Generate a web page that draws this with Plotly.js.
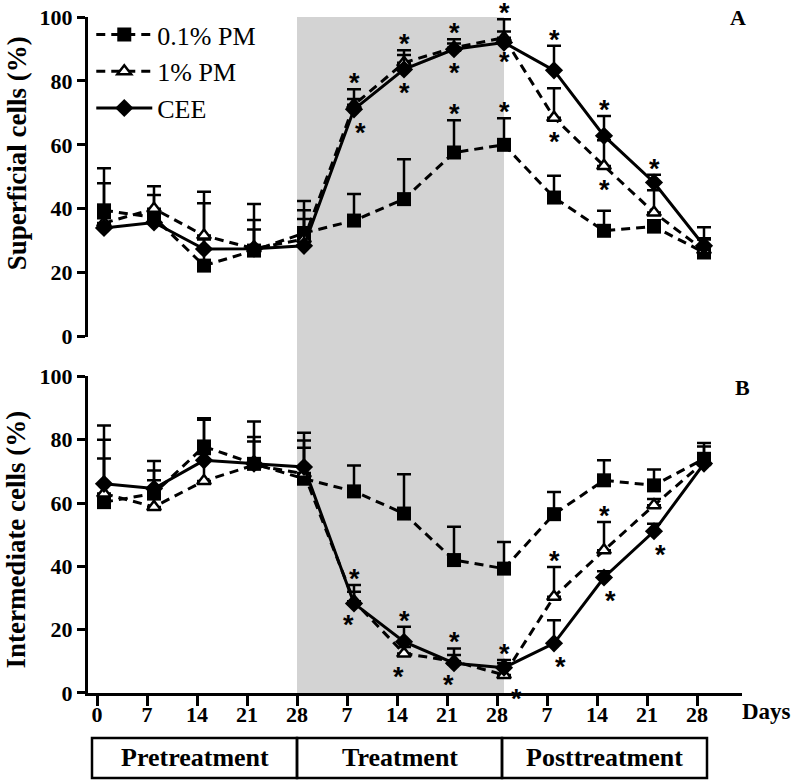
<!DOCTYPE html>
<html>
<head>
<meta charset="utf-8">
<script src="https://cdn.plot.ly/plotly-3.0.1.min.js"></script>
<style>
  body { margin: 0; background: white; }
  #chart { width: 793px; height: 783px; }
</style>
</head>
<body>
<div id="chart"></div>
<script>
// x positions: sampling index (weekly), with day labels per phase
const xIdx = [0, 1, 2, 3, 4, 5, 6, 7, 8, 9, 10, 11, 12];
const xShift = 0.14; // points sit just right of the ticks
const dayLabels = ['0', '7', '14', '21', '28', '7', '14', '21', '28', '7', '14', '21', '28'];
const phaseLabels = ['Pretreatment', 'Treatment', 'Posttreatment'];
const seriesNames = ['0.1% PM', '1% PM', 'CEE'];

// A - superficial cells (%), mean and upper SEM
const supPM01 = [39.5, 37.3, 22.2, 26.9, 32.4, 36.3, 43.0, 57.6, 60.0, 43.5, 33.1, 34.4, 26.3];
const supPM01Err = [13.2, 7.0, 19.5, 14.6, 10.0, 8.3, 12.5, 10.1, 8.3, 6.8, 6.3, 2.0, 7.9];
const supPM1 = [35.5, 40.0, 31.6, 27.5, 30.5, 72.5, 85.7, 90.4, 93.5, 68.5, 53.4, 38.8, 27.0];
const supPM1Err = [12.5, 7.0, 13.7, 9.0, 9.0, 4.9, 3.9, 2.6, 2.0, 9.2, 8.0, 7.0, 3.8];
const supCEE = [34.0, 35.7, 27.4, 27.5, 28.4, 71.1, 83.6, 89.9, 92.0, 83.3, 62.8, 48.2, 28.4];
const supCEEErr = [3.0, 3.0, 3.0, 6.0, 8.4, 3.2, 4.5, 1.8, 7.3, 7.7, 6.2, 2.4, 2.0];

// B - intermediate cells (%)
const intPM01 = [60.3, 63.0, 77.9, 72.4, 67.7, 63.7, 56.7, 42.0, 39.3, 56.5, 67.2, 65.6, 74.0];
const intPM01Err = [19.7, 7.3, 8.9, 13.4, 9.8, 8.2, 12.4, 10.5, 8.4, 7.0, 6.3, 5.0, 5.0];
const intPM1 = [63.0, 58.8, 67.0, 72.0, 69.3, 29.0, 12.5, 10.0, 5.7, 30.4, 45.1, 59.3, 73.0];
const intPM1Err = [21.5, 14.5, 19.3, 8.9, 10.5, 3.0, 2.0, 2.0, 3.7, 9.4, 8.9, 2.0, 4.9];
const intCEE = [66.1, 64.6, 73.5, 72.5, 71.4, 28.3, 16.2, 9.4, 8.0, 15.7, 36.5, 51.1, 72.5];
const intCEEErr = [8.0, 2.6, 2.0, 7.0, 10.8, 5.8, 4.7, 4.7, 2.4, 7.3, 2.0, 2.4, 2.0];

// significance stars: [index, series (0,1,2), 'up' above error cap | 'down' below point, side nudge]
const supStars = [
  [5, 1, 'up', 0], [5, 2, 'down', 1], [6, 1, 'up', 0], [6, 2, 'down', 0],
  [7, 0, 'up', 0], [7, 1, 'up', 0], [7, 2, 'down', 0], [8, 0, 'up', 0], [8, 2, 'up', 0], [8, 1, 'down', 0],
  [9, 2, 'up', 0], [9, 1, 'down', 0], [10, 2, 'up', 0], [10, 1, 'down', 0], [11, 2, 'up', 0]
];
const intStars = [
  [5, 2, 'up', 0], [5, 1, 'down', -1], [6, 2, 'up', 0], [6, 1, 'down', -1], [7, 2, 'up', 0], [7, 1, 'down', -1],
  [8, 2, 'up', 0], [8, 1, 'down', 2], [9, 1, 'up', 0], [9, 2, 'down', 1], [10, 1, 'up', 0], [10, 2, 'down', 1],
  [11, 2, 'down', 1]
];

const serif = 'Liberation Serif, Times New Roman, serif';
const xs = xIdx.map(i => i + xShift);

const styles = [
  { dash: '9px,6px', symbol: 'square', size: 14, fill: 'black', lw: 0 },
  { dash: '9px,6px', symbol: 'triangle-up', size: 12, fill: 'white', lw: 2.5 },
  { dash: 'solid', symbol: 'diamond', size: 14, fill: 'black', lw: 0 }
];

function makeTrace(vals, errs, k, xa, ya, legend) {
  const st = styles[k];
  return {
    x: xs, y: vals, xaxis: xa, yaxis: ya,
    type: 'scatter', mode: 'lines+markers',
    name: seriesNames[k], showlegend: legend, legendgroup: 'g' + k,
    line: { color: 'black', width: 3, dash: st.dash },
    marker: {
      symbol: st.symbol, size: st.size, color: st.fill,
      line: { color: 'black', width: st.lw }
    },
    error_y: {
      type: 'data', array: errs, symmetric: false,
      arrayminus: errs.map(() => 0),
      color: 'black', thickness: 2.5, width: 7
    },
    cliponaxis: false
  };
}

const traces = [
  makeTrace(supPM01, supPM01Err, 0, 'x2', 'y2', true),
  makeTrace(supPM1, supPM1Err, 1, 'x2', 'y2', true),
  makeTrace(supCEE, supCEEErr, 2, 'x2', 'y2', true),
  makeTrace(intPM01, intPM01Err, 0, 'x', 'y', false),
  makeTrace(intPM1, intPM1Err, 1, 'x', 'y', false),
  makeTrace(intCEE, intCEEErr, 2, 'x', 'y', false)
];

function starNotes(stars, vals, errs, yref) {
  return stars.map(s => {
    const i = s[0], k = s[1], up = s[2] === 'up';
    return {
      x: xs[i], y: up ? vals[k][i] + errs[k][i] : vals[k][i],
      xref: yref === 'y' ? 'x' : 'x2', yref: yref,
      xanchor: 'center', yanchor: 'middle',
      text: '*', showarrow: false,
      xshift: s[3] * 6, yshift: up ? 6 : -24,
      font: { family: 'Liberation Sans, Arial, sans-serif', size: 27, color: 'black', weight: 'bold' }
    };
  });
}

const annotations = []
  .concat(starNotes(supStars, [supPM01, supPM1, supCEE], [supPM01Err, supPM1Err, supCEEErr], 'y2'))
  .concat(starNotes(intStars, [intPM01, intPM1, intCEE], [intPM01Err, intPM1Err, intCEEErr], 'y'));

const tickFont = { family: serif, size: 22, color: 'black', weight: 'bold' };
const titleFont = { family: serif, size: 27, color: 'black', weight: 'bold' };
const boxFont = { family: serif, size: 26, color: 'black', weight: 'bold' };

function paperNote(x, y, text, font, angle) {
  return {
    x: x, y: y, xref: 'paper', yref: 'paper', text: text, showarrow: false,
    xanchor: 'center', yanchor: 'middle', textangle: angle || 0, font: font
  };
}

annotations.push(
  paperNote(0.994, 0.9988, 'A', tickFont),
  paperNote(1.0, 0.452, 'B', tickFont),
  paperNote(1.037, -0.028, 'Days', { family: serif, size: 23, color: 'black', weight: 'bold' }),
  paperNote(-0.1095, 0.799, 'Superficial cells (%)', titleFont, -90),
  paperNote(-0.1095, 0.2275, 'Intermediate cells (%)', titleFont, -90)
);

// phase boxes under the day axis
const phaseEdges = [-0.1, 4, 8.1, 12.2];
const shapes = [{
  type: 'rect', xref: 'x', yref: 'paper', x0: 4, x1: 8 + xShift, y0: 0, y1: 1,
  fillcolor: '#d3d3d3', line: { width: 0 }, layer: 'below'
}];
phaseLabels.forEach((lab, j) => {
  shapes.push({
    type: 'rect', xref: 'x', yref: 'paper', x0: phaseEdges[j], x1: phaseEdges[j + 1],
    y0: -0.1256, y1: -0.0665, line: { color: 'black', width: 2.5 }
  });
  annotations.push({
    x: (phaseEdges[j] + phaseEdges[j + 1]) / 2, y: -0.096, xref: 'x', yref: 'paper',
    xanchor: 'center', yanchor: 'middle',
    text: lab, showarrow: false, font: boxFont
  });
});

const yTicks = [0, 20, 40, 60, 80, 100];
function yAxis(domain, anchor) {
  return {
    domain: domain, anchor: anchor, range: [0, 100],
    tickvals: yTicks, ticks: 'outside', ticklen: 8, tickwidth: 3, tickcolor: 'black',
    showline: true, linewidth: 3, linecolor: 'black',
    showgrid: false, zeroline: false,
    tickfont: tickFont
  };
}

const layout = {
  width: 793, height: 783,
  margin: { l: 88, r: 51, t: 16, b: 90 },
  paper_bgcolor: 'white', plot_bgcolor: 'rgba(0,0,0,0)',
  showlegend: true,
  legend: {
    x: 0.005, y: 1.0074, xanchor: 'left', yanchor: 'top',
    bgcolor: 'rgba(0,0,0,0)', tracegroupgap: 0, itemwidth: 56,
    font: { family: serif, size: 26, color: 'black' }
  },
  xaxis: {
    domain: [0, 1], anchor: 'y', range: [-0.18, 12.9],
    tickvals: xIdx, ticktext: dayLabels,
    ticks: 'outside', ticklen: 10, tickwidth: 3, tickcolor: 'black',
    ticklabelstandoff: -10,
    showline: true, linewidth: 3, linecolor: 'black',
    showgrid: false, zeroline: false, tickfont: tickFont
  },
  xaxis2: { domain: [0, 1], anchor: 'y2', matches: 'x', visible: false },
  yaxis: yAxis([0, 0.4682], 'x'),
  yaxis2: yAxis([0.5273, 1], 'x2'),
  shapes: shapes,
  annotations: annotations
};

Plotly.newPlot('chart', traces, layout, { displayModeBar: false, staticPlot: true });
</script>
</body>
</html>
